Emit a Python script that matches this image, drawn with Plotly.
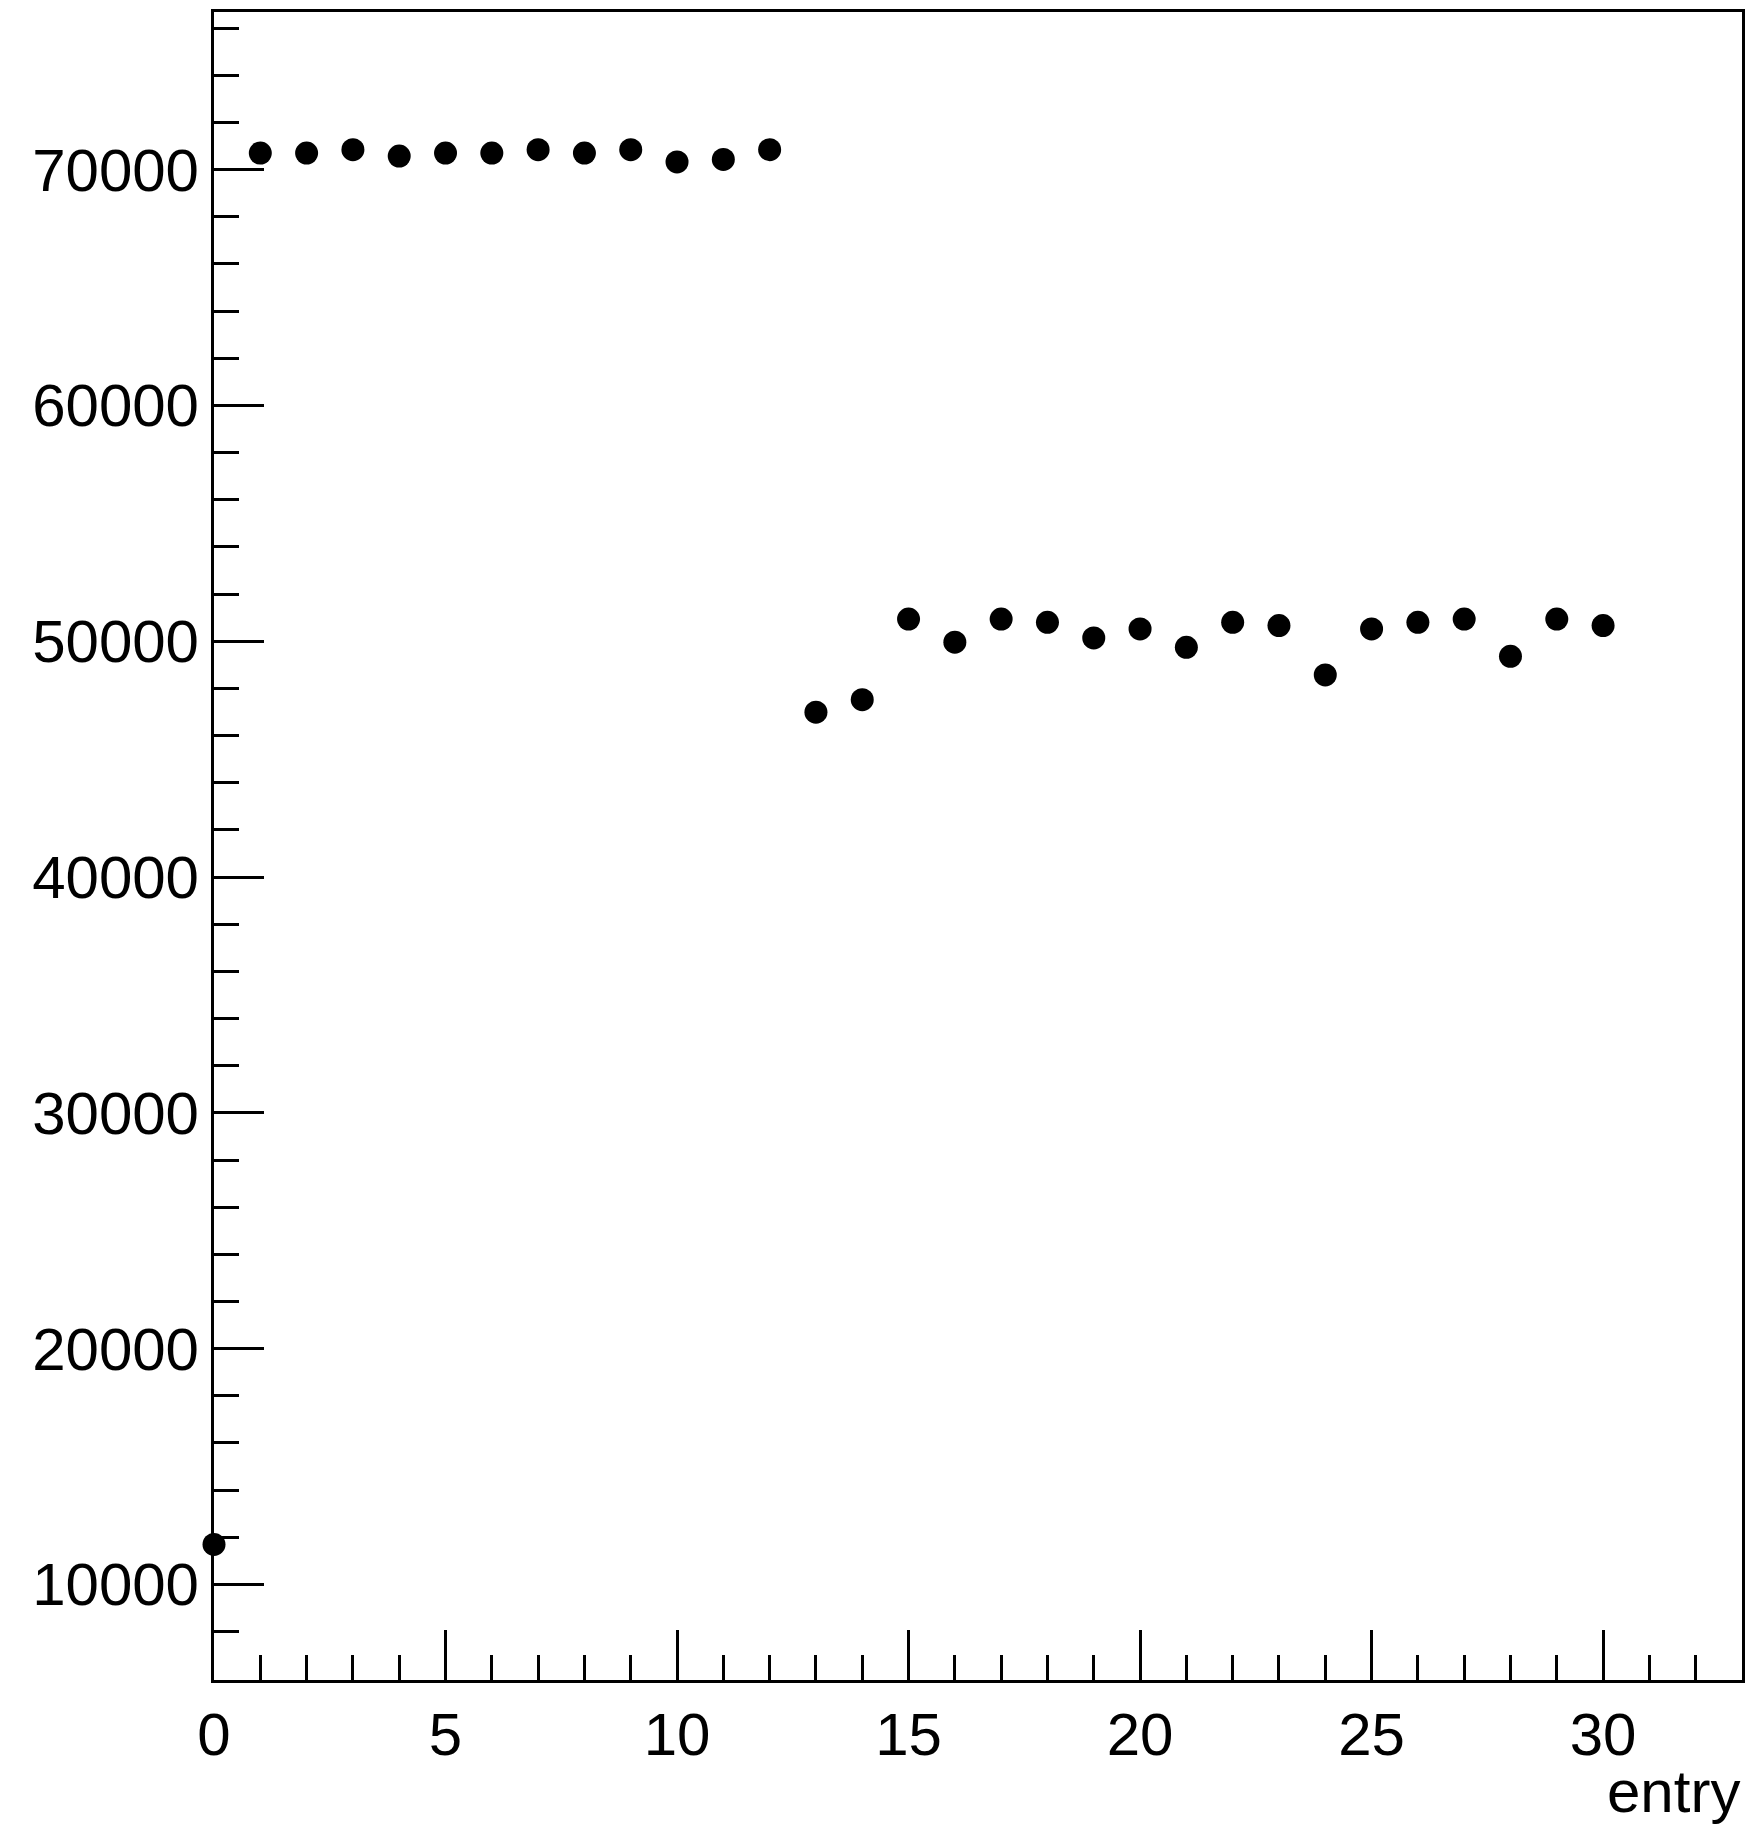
import plotly.graph_objects as go

# Graph points: one value per entry
entry = list(range(31))
values = [
    11700,
    70700, 70700, 70840, 70570, 70700, 70700, 70840, 70700, 70840, 70320, 70430, 70840,
    46990, 47520, 50940, 49960, 50940, 50800, 50140, 50520, 49740, 50800, 50660,
    48570, 50520, 50800, 50940, 49360, 50940, 50660,
]

x_range = [0, 33]
y_range = [5950, 76680]

# minor ticks on y every 2000, skipping the one that would sit on the frame
y_minor = [v for v in range(8000, 78000, 2000) if v % 10000 != 0]

FONT = "Liberation Sans, Arial, Helvetica, sans-serif"

fig = go.Figure()
fig.add_trace(go.Scatter(
    x=entry,
    y=values,
    mode="markers",
    marker=dict(symbol="circle", size=23, color="black", line=dict(width=0)),
    showlegend=False,
    cliponaxis=False,
))

axis_common = dict(
    showgrid=False,
    zeroline=False,
    showline=True,
    mirror=True,
    linecolor="black",
    linewidth=3,
    ticks="inside",
    tickcolor="black",
    tickwidth=3,
    ticklen=50,
    tickfont=dict(family=FONT, size=60, color="black"),
)

fig.update_xaxes(
    range=x_range,
    tickmode="linear",
    tick0=0,
    dtick=5,
    minor=dict(ticks="inside", ticklen=25, tickwidth=3, tickcolor="black", dtick=1, tick0=0),
    ticklabelstandoff=0,
    **axis_common,
)
fig.update_yaxes(
    range=y_range,
    tickmode="linear",
    tick0=0,
    dtick=10000,
    tickformat="d",
    minor=dict(ticks="inside", ticklen=25, tickwidth=3, tickcolor="black",
               tickmode="array", tickvals=y_minor),
    ticklabelstandoff=0,
    **axis_common,
)

fig.add_annotation(
    text="entry",
    xref="paper", yref="paper",
    x=1.0, y=0,
    xanchor="right", yanchor="top",
    yshift=-76,
    showarrow=False,
    font=dict(family=FONT, size=60, color="black"),
)

fig.update_layout(
    width=1748,
    height=1830,
    margin=dict(l=214, r=6, t=12, b=150, autoexpand=False),
    paper_bgcolor="white",
    plot_bgcolor="white",
)

fig.write_html("out.html")
